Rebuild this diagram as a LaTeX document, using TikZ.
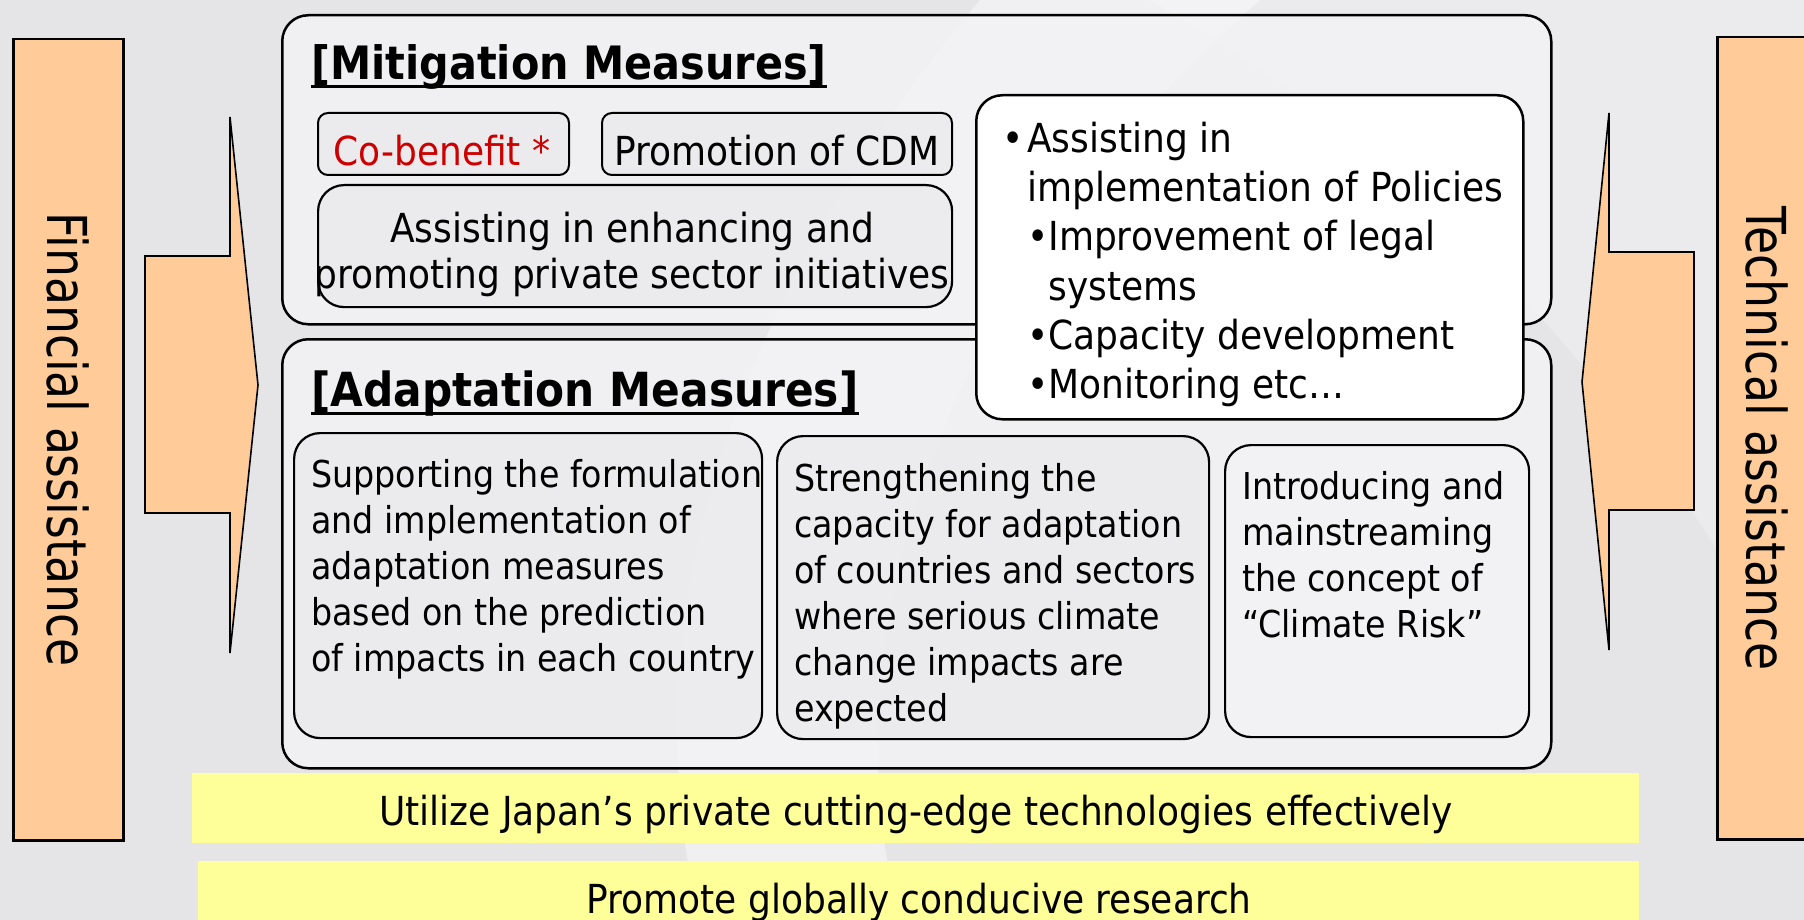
\documentclass[tikz,border=0pt]{standalone}
\usepackage{fontspec}
\setmainfont{DejaVu Sans}[FakeStretch=0.9]
\newfontfamily\sidefont{DejaVu Sans}[FakeStretch=0.83]
\definecolor{bg}{RGB}{229,229,232}
\definecolor{boxfill}{RGB}{244,244,246}
\definecolor{innerfill}{RGB}{234,234,237}
\definecolor{peach}{RGB}{255,204,153}
\definecolor{lemon}{RGB}{255,255,153}
\definecolor{cored}{RGB}{204,0,0}
\begin{document}
\begin{tikzpicture}[x=1pt,y=-1pt,
  outerbox/.style={draw=black, line width=2.5pt, fill=boxfill, fill opacity=0.75, rounded corners=26pt, anchor=north west, inner sep=0pt},
  innerbox/.style={draw=black, line width=2.2pt, fill=innerfill, fill opacity=0.7, rounded corners=26pt, anchor=north west, inner sep=0pt},
  smallbox/.style={draw=black, line width=2pt, fill=innerfill, fill opacity=0.7, rounded corners=10pt, anchor=north west, inner sep=0pt},
  bubble/.style={draw=black, line width=2.5pt, fill=white, rounded corners=26pt, anchor=north west, inner sep=0pt},
  sidebar/.style={draw=black, line width=2.5pt, fill=peach, anchor=north west, inner sep=0pt},
  yellowbar/.style={fill=lemon, anchor=north west, inner sep=0pt},
  blockarrow/.style={draw=black, line width=1.6pt, fill=peach, line join=miter},
  txt/.style={inner sep=0pt, font=\fontsize{37}{46}\selectfont},
  bigtxt/.style={inner sep=0pt, font=\fontsize{40}{46}\selectfont},
  bartxt/.style={inner sep=0pt, font=\fontsize{40}{48}\selectfont},
  title/.style={inner sep=0pt, font=\fontsize{46}{54}\selectfont\bfseries, anchor=base west},
  sidetxt/.style={inner sep=0pt, font=\sidefont\fontsize{55}{60}\selectfont, rotate=-90}
]
\fill[bg] (0,0) rectangle (1804,920);
\useasboundingbox (0,0) rectangle (1804,920);
\clip (0,0) rectangle (1804,920);
% soft background swoosh
\fill[white, opacity=0.45] (980,0) .. controls (760,260) and (620,600) .. (700,920) -- (900,920) .. controls (820,620) and (960,260) .. (1260,0) -- cycle;
\fill[white, opacity=0.25] (1150,0) .. controls (1500,200) and (1700,500) .. (1804,700) -- (1804,0) -- cycle;

% side bars
\node[sidebar, minimum width=110pt, minimum height=801pt] (lbar) at (12,38) {};
\node[sidebar, minimum width=110pt, minimum height=802pt] (rbar) at (1716,36) {};
\node[sidetxt] (ltxt) at (lbar.center) {Financial assistance};
\node[sidetxt] (rtxt) at ([xshift=-5pt]rbar.center) {Technical assistance};

% block arrows
\draw[blockarrow] (145,256) -- (230,256) -- (230,117) -- (258,385) -- (230,653) -- (230,513) -- (145,513) -- cycle;
\draw[blockarrow] (1694,252) -- (1609,252) -- (1609,113) -- (1582,382) -- (1609,650) -- (1609,510) -- (1694,510) -- cycle;

% outer boxes
\node[outerbox, minimum width=1269pt, minimum height=309pt] (mit) at (281,14) {};
\node[outerbox, minimum width=1269pt, minimum height=429pt] (adp) at (281,338) {};

% mitigation content
\node[title] (mtitle) at (311,80) {[Mitigation Measures]};
\draw[line width=3pt] ([yshift=-7pt]mtitle.base west) -- ([yshift=-7pt]mtitle.base east);
\node[smallbox, minimum width=251pt, minimum height=62pt] (cob) at (317,112) {};
\node[smallbox, minimum width=350pt, minimum height=62pt] (cdm) at (601,112) {};
\node[bigtxt, text=cored, anchor=base] (cobt) at (442,166) {Co-benefit *};
\node[bigtxt, anchor=base] (cdmt) at (777,166) {Promotion of CDM};
\node[innerbox, minimum width=634pt, minimum height=122pt] (priv) at (317,184) {};
\node[bigtxt, align=center, anchor=north] (privt) at (632,212) {Assisting in enhancing and\\promoting private sector initiatives};

% adaptation content
\node[title, font=\fontsize{47}{54}\selectfont\bfseries] (atitle) at (311,406) {[Adaptation Measures]};
\draw[line width=3pt] ([yshift=-7pt]atitle.base west) -- ([yshift=-7pt]atitle.base east);
\node[innerbox, minimum width=468pt, minimum height=305pt] (a1) at (293,432) {};
\node[innerbox, minimum width=432pt, minimum height=303pt] (a2) at (776,435) {};
\node[innerbox, fill=boxfill, minimum width=304pt, minimum height=292pt] (a3) at (1224,444) {};
\node[txt, align=left, anchor=north west] (a1t) at (311,459) {Supporting the formulation\\and implementation of\\adaptation measures\\based on the prediction\\of impacts in each country};
\node[txt, align=left, anchor=north west] (a2t) at (794,463) {Strengthening the\\capacity for adaptation\\of countries and sectors\\where serious climate\\change impacts are\\expected};
\node[txt, align=left, anchor=north west] (a3t) at (1242,471) {Introducing and\\mainstreaming\\the concept of\\“Climate Risk”};

% bubble
\node[bubble, minimum width=547pt, minimum height=324pt] (bub) at (975,94) {};
\node[bigtxt, font=\fontsize{40}{49.2}\selectfont, align=left, anchor=north west] (bubt) at (1027,122) {\llap{•\hspace{3pt}}Assisting in\\implementation of Policies\\•Improvement of legal\\\phantom{•}systems\\•Capacity development\\•Monitoring etc…};

% yellow bars
\node[yellowbar, minimum width=1447pt, minimum height=70pt] (ybar1) at (192,773) {};
\node[yellowbar, minimum width=1441pt, minimum height=70pt] (ybar2) at (198,861) {};
\node[bartxt, anchor=base] (y1t) at (916,825) {Utilize Japan’s private cutting-edge technologies effectively};
\node[bartxt, anchor=base] (y2t) at (919,913) {Promote globally conducive research};
\end{tikzpicture}
\end{document}
